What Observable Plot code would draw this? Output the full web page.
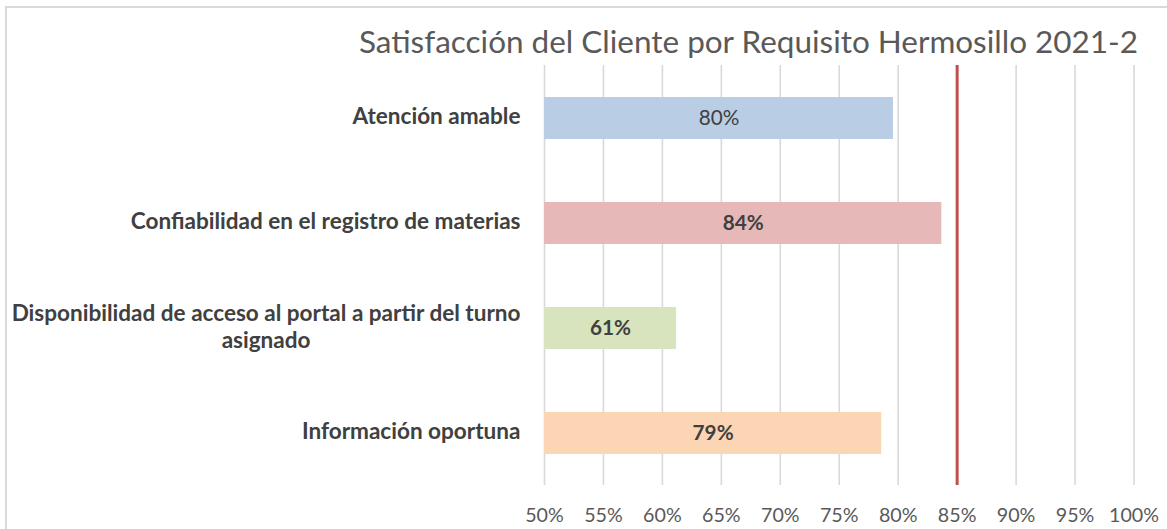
<!DOCTYPE html>
<html>
<head>
<meta charset="utf-8">
<script src="https://cdn.jsdelivr.net/npm/d3@7"></script>
<script src="https://cdn.jsdelivr.net/npm/@observablehq/plot@0.6"></script>
<style>
  html, body { margin: 0; padding: 0; background: #fff; }
  #wrap { position: relative; width: 1167px; height: 529px; overflow: hidden; }
  #border { position: absolute; left: 5px; top: 6px; width: 1200px; height: 600px; border: 2px solid #d9d9d9; box-sizing: border-box; }
  #title { position: absolute; right: 29px; top: 0; font-family: Lato, sans-serif; color: #595959; white-space: nowrap; line-height: 1; }
  #chart { position: absolute; left: 0; top: 0; }
</style>
</head>
<body>
<div id="wrap">
  <div id="border"></div>
  <div id="chart"></div>
  <div id="title"></div>
</div>
<script>
// ---- data ----
const titleText = "Satisfacción del Cliente por Requisito Hermosillo 2021-2";
const categories = [
  "Atención amable",
  "Confiabilidad en el registro de materias",
  "Disponibilidad de acceso al portal a partir del turno asignado",
  "Información oportuna"
];
const categoryLabels = [
  "Atención amable",
  "Confiabilidad en el registro de materias",
  "Disponibilidad de acceso al portal a partir del turno\nasignado",
  "Información oportuna"
];
const values = [0.796, 0.837, 0.612, 0.786];
const valueLabels = ["80%", "84%", "61%", "79%"];
const labelBold = [false, true, true, true];
const barColors = ["#b9cde5", "#e6b9b8", "#d7e4bd", "#fcd5b5"];
const target = 0.85;
const xTicks = [0.5, 0.55, 0.6, 0.65, 0.7, 0.75, 0.8, 0.85, 0.9, 0.95, 1.0];
const xTickLabels = ["50%", "55%", "60%", "65%", "70%", "75%", "80%", "85%", "90%", "95%", "100%"];

const data = categories.map((c, i) => ({cat: c, value: values[i], label: valueLabels[i], bold: labelBold[i]}));

// font fitting helper
const ctx = document.createElement("canvas").getContext("2d");
function fit(text, weight, family, target) {
  ctx.font = `${weight} 100px ${family}`;
  return 100 * target / ctx.measureText(text).width;
}
const FAM = "Lato";
const titleFs = fit(titleText, 400, FAM, 780);
const catFs = fit("Confiabilidad en el registro de materias", 700, FAM, 390);
const tickFs = fit("100%", 400, FAM, 50);
const valFs = fit("84%", 700, FAM, 41);

const t = document.getElementById("title");
t.textContent = titleText;
t.style.fontSize = titleFs + "px";
t.style.top = (53 - 0.86 * titleFs) + "px";

const chart = Plot.plot({
  width: 1167,
  height: 529,
  marginTop: 65,
  marginBottom: 44,
  marginLeft: 544,
  marginRight: 33.5,
  style: {fontFamily: FAM, background: "transparent"},
  x: {domain: [0.5, 1], ticks: xTicks, label: null},
  y: {domain: categories, paddingInner: 0.6, paddingOuter: 0.3, label: null},
  color: {domain: categories, range: barColors},
  marks: [
    Plot.gridX(xTicks, {stroke: "#d9d9d9", strokeOpacity: 1, strokeWidth: 1.6}),
    Plot.barX(data, {x1: 0.5, x2: "value", y: "cat", fill: "cat"}),
    Plot.ruleX([target], {stroke: "#c0504d", strokeWidth: 3}),
    Plot.text(data.filter(d => d.bold), {x: d => (0.5 + d.value) / 2, y: "cat", text: "label", fill: "#404040", fontSize: valFs, fontWeight: "bold"}),
    Plot.text(data.filter(d => !d.bold), {x: d => (0.5 + d.value) / 2, y: "cat", text: "label", fill: "#404040", fontSize: valFs, fontWeight: "normal"}),
    Plot.axisX(xTicks, {tickSize: 0, tickPadding: 23, fontSize: tickFs, fill: "#595959", label: null, tickFormat: d => xTickLabels[xTicks.indexOf(d)]}),
    Plot.axisY({tickSize: 0, tickPadding: 24, dy: -3, fontSize: catFs, fontWeight: "bold", fill: "#404040", lineHeight: 1.2, label: null, tickFormat: d => categoryLabels[categories.indexOf(d)]})
  ]
});
document.getElementById("chart").appendChild(chart);

// center the wrapped category label lines on each other (as in the original)
chart.querySelectorAll('g[aria-label="y-axis tick label"] text').forEach(txt => {
  const spans = txt.querySelectorAll("tspan");
  if (spans.length > 1) {
    const widths = Array.from(spans, s => s.getComputedTextLength());
    const w = Math.max(...widths);
    spans.forEach((s, i) => s.setAttribute("x", -(w - widths[i]) / 2));
  }
});
</script>
</body>
</html>
